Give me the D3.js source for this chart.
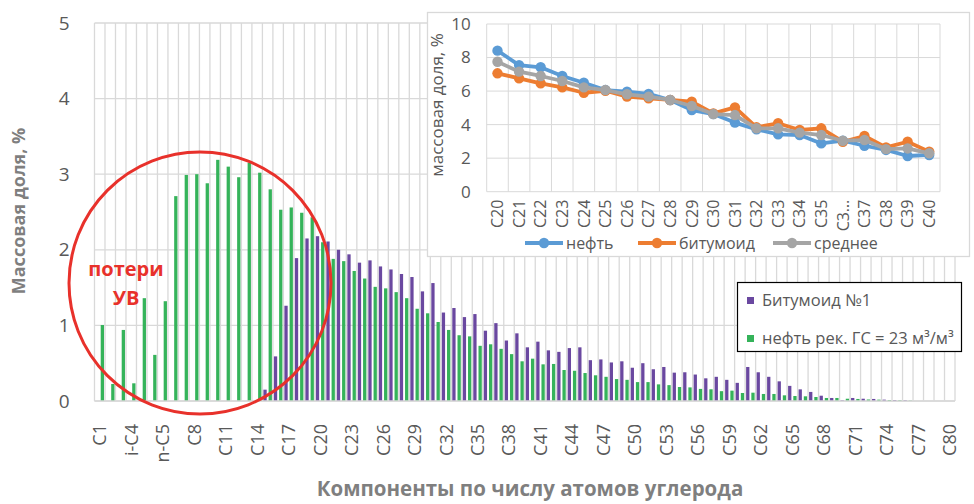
<!DOCTYPE html>
<html>
<head>
<meta charset="utf-8">
<script src="https://cdn.jsdelivr.net/npm/d3@7"></script>
<style>
  body { margin: 0; background: #fff; }
  text { font-family: "Open Sans", sans-serif; }
</style>
</head>
<body>
<svg id="chart" width="974" height="504"></svg>
<script>
// main chart data
const CATEGORIES = ["C1", "C2", "C3", "i-C4", "n-C4", "i-C5", "n-C5"]
  .concat(d3.range(6, 81).map((n) => "C" + n));

const BITUMOID = [
  0, 0, 0, 0, 0, 0, 0, 0, 0, 0,
  0, 0, 0, 0, 0, 0, 0.15, 0.59, 1.26, 1.89,
  2.15, 2.18, 2.11, 2.0, 1.94, 1.83, 1.86, 1.78, 1.74, 1.68,
  1.64, 1.45, 1.56, 1.17, 1.23, 1.11, 1.15, 0.93, 1.03, 0.8,
  0.895, 0.71, 0.785, 0.67, 0.65, 0.7, 0.71, 0.54, 0.55, 0.51,
  0.525, 0.44, 0.5, 0.42, 0.45, 0.375, 0.38, 0.35, 0.3, 0.32,
  0.28, 0.24, 0.45, 0.38, 0.32, 0.26, 0.2, 0.154, 0.12, 0.07,
  0.04, 0.01, 0.04, 0.03, 0.027, 0.018, 0.013, 0.01, 0, 0,
  0, 0
];

const OIL = [
  1.005, 0.225, 0.94, 0.234, 1.36, 0.61, 1.32, 2.71, 2.99, 3.0,
  2.88, 3.19, 3.1, 2.96, 3.15, 3.02, 2.8, 2.53, 2.56, 2.49,
  2.43, 2.1, 1.88, 1.85, 1.72, 1.62, 1.51, 1.49, 1.44, 1.36,
  1.22, 1.16, 1.045, 0.94, 0.87, 0.855, 0.73, 0.75, 0.69, 0.62,
  0.525, 0.56, 0.485, 0.49, 0.41, 0.4, 0.37, 0.34, 0.32, 0.29,
  0.28, 0.25, 0.25, 0.22, 0.21, 0.185, 0.18, 0.16, 0.155, 0.13,
  0.137, 0.106, 0.11, 0.093, 0.093, 0.075, 0.066, 0.062, 0.053, 0.04,
  0.04, 0.03, 0.027, 0.02, 0.018, 0.013, 0.01, 0.005, 0, 0,
  0, 0
];

const SERIES = ["bitumoid", "oil"];
const SERIES_NAMES = ["Битумоид №1", "нефть рек. ГС = 23 м³/м³"];
const Y_TICKS = [0, 1, 2, 3, 4, 5];

// inset data
const INSET_CATEGORIES = d3.range(20, 41).map((n) => "C" + n);
const INSET_OIL = [8.41, 7.55, 7.42, 6.9, 6.5, 6.06, 5.96, 5.83, 5.47, 4.87, 4.63, 4.12, 3.72, 3.42, 3.38, 2.88, 3.04, 2.74, 2.49, 2.13, 2.19];
const INSET_BITUMOID = [7.06, 6.76, 6.46, 6.22, 5.9, 6.02, 5.67, 5.57, 5.47, 5.37, 4.67, 5.03, 3.84, 4.08, 3.68, 3.78, 2.98, 3.32, 2.64, 2.98, 2.39];
const INSET_MEAN = [7.75, 7.16, 6.9, 6.6, 6.22, 6.06, 5.81, 5.67, 5.47, 5.11, 4.63, 4.57, 3.78, 3.78, 3.52, 3.38, 3.04, 3.08, 2.54, 2.58, 2.29];
const INSET_Y_TICKS = [0, 2, 4, 6, 8, 10];
const INSET_NAMES = ["нефть", "битумоид", "среднее"];

const COLORS = { bitumoid: "#6a48a0", oil: "#35b35a" };
const LINE_COLORS = ["#5b9bd5", "#ed7d31", "#a5a5a5"];
const GRID = "#d9d9d9";
const TEXT = "#595959";

const svg = d3.select("#chart");

// ---------- main chart ----------
const plot = { left: 94.5, right: 955, top: 23, bottom: 401 };

const x = d3.scaleBand().domain(CATEGORIES).range([plot.left, plot.right]);
const sub = d3
  .scaleBand()
  .domain(SERIES)
  .range([x.bandwidth() * 0.095, x.bandwidth() * 0.905])
  .paddingInner(0.37);
const y = d3.scaleLinear().domain([0, 5]).range([plot.bottom, plot.top]);

const grid = svg.append("g");
grid
  .selectAll("line.h")
  .data(Y_TICKS)
  .join("line")
  .attr("x1", plot.left)
  .attr("x2", plot.right)
  .attr("y1", (d) => y(d))
  .attr("y2", (d) => y(d))
  .attr("stroke", GRID)
  .attr("stroke-width", 1.3);
grid
  .selectAll("line.v")
  .data(CATEGORIES.map((c) => x(c)).concat([plot.right]))
  .join("line")
  .attr("x1", (d) => d)
  .attr("x2", (d) => d)
  .attr("y1", plot.top)
  .attr("y2", plot.bottom)
  .attr("stroke", GRID)
  .attr("stroke-width", 1.3);

const rows = CATEGORIES.map((c, i) => ({ cat: c, bitumoid: BITUMOID[i], oil: OIL[i] }));

svg
  .append("g")
  .selectAll("g")
  .data(rows)
  .join("g")
  .attr("transform", (d) => `translate(${x(d.cat)},0)`)
  .selectAll("rect")
  .data((d) => SERIES.map((key) => ({ key, value: d[key] })))
  .join("rect")
  .attr("x", (d) => sub(d.key))
  .attr("width", sub.bandwidth())
  .attr("y", (d) => y(d.value))
  .attr("height", (d) => y(0) - y(d.value))
  .attr("fill", (d) => COLORS[d.key]);

// baseline
svg
  .append("line")
  .attr("x1", plot.left)
  .attr("x2", plot.right)
  .attr("y1", y(0))
  .attr("y2", y(0))
  .attr("stroke", GRID)
  .attr("stroke-width", 1.3);

// y axis
svg
  .append("g")
  .attr("transform", `translate(${plot.left},0)`)
  .call(
    d3.axisLeft(y).tickValues(Y_TICKS).tickFormat(d3.format("d")).tickSize(0).tickPadding(25)
  )
  .call((g) => g.select(".domain").remove())
  .call((g) =>
    g.selectAll("text").attr("fill", TEXT).attr("font-size", 19).style("font-family", "Open Sans")
  );

// x axis, every third label
svg
  .append("g")
  .attr("transform", `translate(0,${plot.bottom})`)
  .call(
    d3
      .axisBottom(x)
      .tickValues(CATEGORIES.filter((c, i) => i % 3 === 0))
      .tickSize(0)
  )
  .call((g) => g.select(".domain").remove())
  .call((g) =>
    g
      .selectAll("text")
      .attr("transform", "rotate(-90)")
      .attr("text-anchor", "end")
      .attr("x", -23)
      .attr("y", 0)
      .attr("dy", "0.36em")
      .attr("fill", TEXT)
      .attr("font-size", 18)
      .style("font-family", "Open Sans")
  );

// axis titles
svg
  .append("text")
  .attr("transform", "translate(25,211) rotate(-90)")
  .attr("text-anchor", "middle")
  .attr("font-size", 18)
  .attr("font-weight", 700)
  .attr("fill", "#7f7f7f")
  .text("Массовая доля, %");

svg
  .append("text")
  .attr("x", 530)
  .attr("y", 496)
  .attr("text-anchor", "middle")
  .attr("font-size", 20.5)
  .attr("font-weight", 700)
  .attr("fill", "#7f7f7f")
  .text("Компоненты по числу атомов углерода");

// red annotation
svg
  .append("ellipse")
  .attr("cx", 200)
  .attr("cy", 283)
  .attr("rx", 131)
  .attr("ry", 131)
  .attr("fill", "none")
  .attr("stroke", "#e8312b")
  .attr("stroke-width", 3);

svg
  .append("text")
  .attr("x", 126)
  .attr("y", 276)
  .attr("text-anchor", "middle")
  .attr("font-size", 20)
  .attr("font-weight", 700)
  .attr("fill", "#e8312b")
  .text("потери");
svg
  .append("text")
  .attr("x", 126)
  .attr("y", 305)
  .attr("text-anchor", "middle")
  .attr("font-size", 20)
  .attr("font-weight", 700)
  .attr("fill", "#e8312b")
  .text("УВ");

// main legend
const legend = svg.append("g");
legend
  .append("rect")
  .attr("x", 737.5)
  .attr("y", 282.5)
  .attr("width", 224)
  .attr("height", 69)
  .attr("fill", "#fff")
  .attr("stroke", "#000")
  .attr("stroke-width", 1.2);
SERIES.forEach((key, i) => {
  const ly = 300 + i * 38;
  legend
    .append("rect")
    .attr("x", 747)
    .attr("y", ly - 3)
    .attr("width", 7)
    .attr("height", 7)
    .attr("fill", COLORS[key]);
  legend
    .append("text")
    .attr("x", 762)
    .attr("y", ly)
    .attr("dy", "0.36em")
    .attr("font-size", 16.5)
    .attr("fill", TEXT)
    .text(SERIES_NAMES[i]);
});

// ---------- inset chart ----------
const box = { left: 427.5, top: 12.5, right: 969.5, bottom: 256.5 };
svg
  .append("rect")
  .attr("x", box.left)
  .attr("y", box.top)
  .attr("width", box.right - box.left)
  .attr("height", box.bottom - box.top)
  .attr("fill", "#fff")
  .attr("stroke", GRID)
  .attr("stroke-width", 1.3);

const ip = { left: 486.7, right: 940, top: 24, bottom: 191.7 };
const ix = d3.scaleBand().domain(INSET_CATEGORIES).range([ip.left, ip.right]);
const iy = d3.scaleLinear().domain([0, 10]).range([ip.bottom, ip.top]);

const igrid = svg.append("g");
igrid
  .selectAll("line.h")
  .data(INSET_Y_TICKS)
  .join("line")
  .attr("x1", ip.left)
  .attr("x2", ip.right)
  .attr("y1", (d) => iy(d))
  .attr("y2", (d) => iy(d))
  .attr("stroke", GRID)
  .attr("stroke-width", 1);
igrid
  .selectAll("line.v")
  .data(INSET_CATEGORIES.map((c) => ix(c)).concat([ip.right]))
  .join("line")
  .attr("x1", (d) => d)
  .attr("x2", (d) => d)
  .attr("y1", ip.top)
  .attr("y2", ip.bottom)
  .attr("stroke", GRID)
  .attr("stroke-width", 1);

svg
  .append("g")
  .attr("transform", `translate(${ip.left},0)`)
  .call(d3.axisLeft(iy).tickValues(INSET_Y_TICKS).tickSize(0).tickPadding(16))
  .call((g) => g.select(".domain").remove())
  .call((g) =>
    g.selectAll("text").attr("fill", TEXT).attr("font-size", 17).style("font-family", "Open Sans")
  );

svg
  .append("g")
  .attr("transform", `translate(0,${ip.bottom})`)
  .call(
    d3
      .axisBottom(ix)
      .tickSize(0)
      .tickFormat((d) => (d === "C36" ? "C3…" : d))
  )
  .call((g) => g.select(".domain").remove())
  .call((g) =>
    g
      .selectAll("text")
      .attr("transform", "rotate(-90)")
      .attr("text-anchor", "end")
      .attr("x", -8)
      .attr("y", 0)
      .attr("dy", "0.36em")
      .attr("fill", TEXT)
      .attr("font-size", 16)
      .style("font-family", "Open Sans")
  );

svg
  .append("text")
  .attr("transform", "translate(443,105) rotate(-90)")
  .attr("text-anchor", "middle")
  .attr("font-size", 17)
  .attr("fill", TEXT)
  .text("массовая доля, %");

const lineGen = d3
  .line()
  .x((d, i) => ix(INSET_CATEGORIES[i]) + ix.bandwidth() / 2)
  .y((d) => iy(d));

[INSET_OIL, INSET_BITUMOID, INSET_MEAN].forEach((vals, k) => {
  const g = svg.append("g");
  g.append("path")
    .attr("d", lineGen(vals))
    .attr("fill", "none")
    .attr("stroke", LINE_COLORS[k])
    .attr("stroke-width", 3.8)
    .attr("stroke-linejoin", "round");
  g.selectAll("circle")
    .data(vals)
    .join("circle")
    .attr("cx", (d, i) => ix(INSET_CATEGORIES[i]) + ix.bandwidth() / 2)
    .attr("cy", (d) => iy(d))
    .attr("r", 5.2)
    .attr("fill", LINE_COLORS[k]);
});

// inset legend
const LEG_X = [525, 638, 773];
INSET_NAMES.forEach((name, k) => {
  const lx = LEG_X[k];
  const g = svg.append("g");
  g.append("line")
    .attr("x1", lx)
    .attr("x2", lx + 38)
    .attr("y1", 243)
    .attr("y2", 243)
    .attr("stroke", LINE_COLORS[k])
    .attr("stroke-width", 3.8);
  g.append("circle").attr("cx", lx + 19).attr("cy", 243).attr("r", 5.2).attr("fill", LINE_COLORS[k]);
  g.append("text")
    .attr("x", lx + 41)
    .attr("y", 243)
    .attr("dy", "0.36em")
    .attr("font-size", 16)
    .attr("fill", TEXT)
    .text(name);
});
</script>
</body>
</html>
